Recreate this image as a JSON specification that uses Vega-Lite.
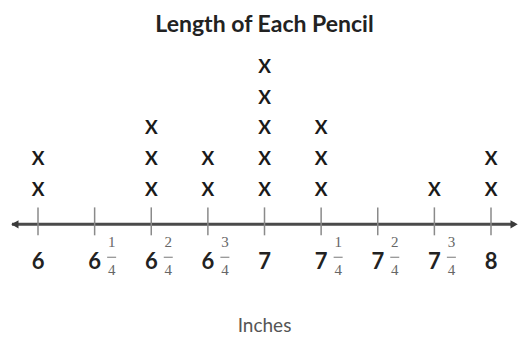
{
  "$schema": "https://vega.github.io/schema/vega-lite/v6.json",
  "width": 519,
  "height": 337,
  "autosize": {"type": "fit", "contains": "padding"},
  "padding": 0,
  "background": "white",
  "config": {"view": {"stroke": null}},
  "datasets": {
    "pencils": [
      {"length": 6}, {"length": 6},
      {"length": 6.5}, {"length": 6.5}, {"length": 6.5},
      {"length": 6.75}, {"length": 6.75},
      {"length": 7}, {"length": 7}, {"length": 7}, {"length": 7}, {"length": 7},
      {"length": 7.25}, {"length": 7.25}, {"length": 7.25},
      {"length": 7.75},
      {"length": 8}, {"length": 8}
    ],
    "ticks": [
      {"v": 6, "whole": "6", "num": "", "den": ""},
      {"v": 6.25, "whole": "6", "num": "1", "den": "4"},
      {"v": 6.5, "whole": "6", "num": "2", "den": "4"},
      {"v": 6.75, "whole": "6", "num": "3", "den": "4"},
      {"v": 7, "whole": "7", "num": "", "den": ""},
      {"v": 7.25, "whole": "7", "num": "1", "den": "4"},
      {"v": 7.5, "whole": "7", "num": "2", "den": "4"},
      {"v": 7.75, "whole": "7", "num": "3", "den": "4"},
      {"v": 8, "whole": "8", "num": "", "den": ""}
    ],
    "one": [{}]
  },
  "layer": [
    {
      "data": {"name": "one"},
      "mark": {"type": "rule", "stroke": "#4a4a4a", "strokeWidth": 3},
      "encoding": {
        "x": {"datum": 5.885, "type": "quantitative", "scale": {"domain": [5.8322, 8.1236]}, "axis": null},
        "x2": {"datum": 8.105},
        "y": {"datum": -0.13, "type": "quantitative", "scale": {"domain": [-3.772, 7.187]}, "axis": null}
      }
    },
    {
      "data": {"name": "one"},
      "mark": {"type": "point", "shape": "triangle-left", "filled": true, "color": "#3a3a3a", "size": 70, "opacity": 1},
      "encoding": {
        "x": {"datum": 5.898, "type": "quantitative", "scale": {"domain": [5.8322, 8.1236]}, "axis": null},
        "y": {"datum": -0.13, "type": "quantitative", "scale": {"domain": [-3.772, 7.187]}, "axis": null}
      }
    },
    {
      "data": {"name": "one"},
      "mark": {"type": "point", "shape": "triangle-right", "filled": true, "color": "#3a3a3a", "size": 70, "opacity": 1},
      "encoding": {
        "x": {"datum": 8.102, "type": "quantitative", "scale": {"domain": [5.8322, 8.1236]}, "axis": null},
        "y": {"datum": -0.13, "type": "quantitative", "scale": {"domain": [-3.772, 7.187]}, "axis": null}
      }
    },
    {
      "data": {"name": "ticks"},
      "mark": {"type": "rule", "stroke": "#8a8a8a", "strokeWidth": 1.5},
      "encoding": {
        "x": {"field": "v", "type": "quantitative", "scale": {"domain": [5.8322, 8.1236]}, "axis": null},
        "y": {"datum": 0.423, "type": "quantitative", "scale": {"domain": [-3.772, 7.187]}, "axis": null},
        "y2": {"datum": -0.488}
      }
    },
    {
      "data": {"name": "ticks"},
      "mark": {"type": "text", "font": "Lato", "fontWeight": "bold", "fontSize": 22, "color": "#222222", "align": "center", "baseline": "middle"},
      "encoding": {
        "x": {"field": "v", "type": "quantitative", "scale": {"domain": [5.8322, 8.1236]}, "axis": null},
        "y": {"datum": -1.366, "type": "quantitative", "scale": {"domain": [-3.772, 7.187]}, "axis": null},
        "text": {"field": "whole"}
      }
    },
    {
      "data": {"name": "ticks"},
      "transform": [{"filter": "datum.num != ''"}],
      "mark": {"type": "text", "font": "Liberation Serif", "fontSize": 15, "color": "#666666", "align": "center", "baseline": "middle", "dx": 17},
      "encoding": {
        "x": {"field": "v", "type": "quantitative", "scale": {"domain": [5.8322, 8.1236]}, "axis": null},
        "y": {"datum": -0.715, "type": "quantitative", "scale": {"domain": [-3.772, 7.187]}, "axis": null},
        "text": {"field": "num"}
      }
    },
    {
      "data": {"name": "ticks"},
      "transform": [{"filter": "datum.num != ''"}],
      "mark": {"type": "text", "font": "Liberation Serif", "fontSize": 15, "color": "#666666", "align": "center", "baseline": "middle", "dx": 17},
      "encoding": {
        "x": {"field": "v", "type": "quantitative", "scale": {"domain": [5.8322, 8.1236]}, "axis": null},
        "y": {"datum": -1.626, "type": "quantitative", "scale": {"domain": [-3.772, 7.187]}, "axis": null},
        "text": {"field": "den"}
      }
    },
    {
      "data": {"name": "ticks"},
      "transform": [{"filter": "datum.num != ''"}],
      "mark": {"type": "tick", "orient": "horizontal", "size": 9, "thickness": 1, "color": "#777777", "xOffset": 17, "opacity": 1},
      "encoding": {
        "x": {"field": "v", "type": "quantitative", "scale": {"domain": [5.8322, 8.1236]}, "axis": null},
        "y": {"datum": -1.203, "type": "quantitative", "scale": {"domain": [-3.772, 7.187]}, "axis": null}
      }
    },
    {
      "data": {"name": "pencils"},
      "transform": [{"window": [{"op": "row_number", "as": "level"}], "groupby": ["length"]}],
      "mark": {"type": "text", "font": "Lato", "fontWeight": "bold", "fontSize": 19, "color": "#1a1a1a", "align": "center", "baseline": "middle", "text": "X"},
      "encoding": {
        "x": {"field": "length", "type": "quantitative", "scale": {"domain": [5.8322, 8.1236]}, "axis": null},
        "y": {"field": "level", "type": "quantitative", "scale": {"domain": [-3.772, 7.187]}, "axis": null}
      }
    },
    {
      "data": {"name": "one"},
      "mark": {"type": "text", "font": "Lato", "fontWeight": "bold", "fontSize": 23, "letterSpacing": 1.5, "color": "#222222", "align": "center", "baseline": "middle", "text": "Length of Each Pencil"},
      "encoding": {
        "x": {"datum": 7.0, "type": "quantitative", "scale": {"domain": [5.8322, 8.1236]}, "axis": null},
        "y": {"datum": 6.374, "type": "quantitative", "scale": {"domain": [-3.772, 7.187]}, "axis": null}
      }
    },
    {
      "data": {"name": "one"},
      "mark": {"type": "text", "font": "Lato", "fontSize": 19, "color": "#555555", "align": "center", "baseline": "middle", "text": "Inches"},
      "encoding": {
        "x": {"datum": 7.0, "type": "quantitative", "scale": {"domain": [5.8322, 8.1236]}, "axis": null},
        "y": {"datum": -3.447, "type": "quantitative", "scale": {"domain": [-3.772, 7.187]}, "axis": null}
      }
    }
  ]
}
